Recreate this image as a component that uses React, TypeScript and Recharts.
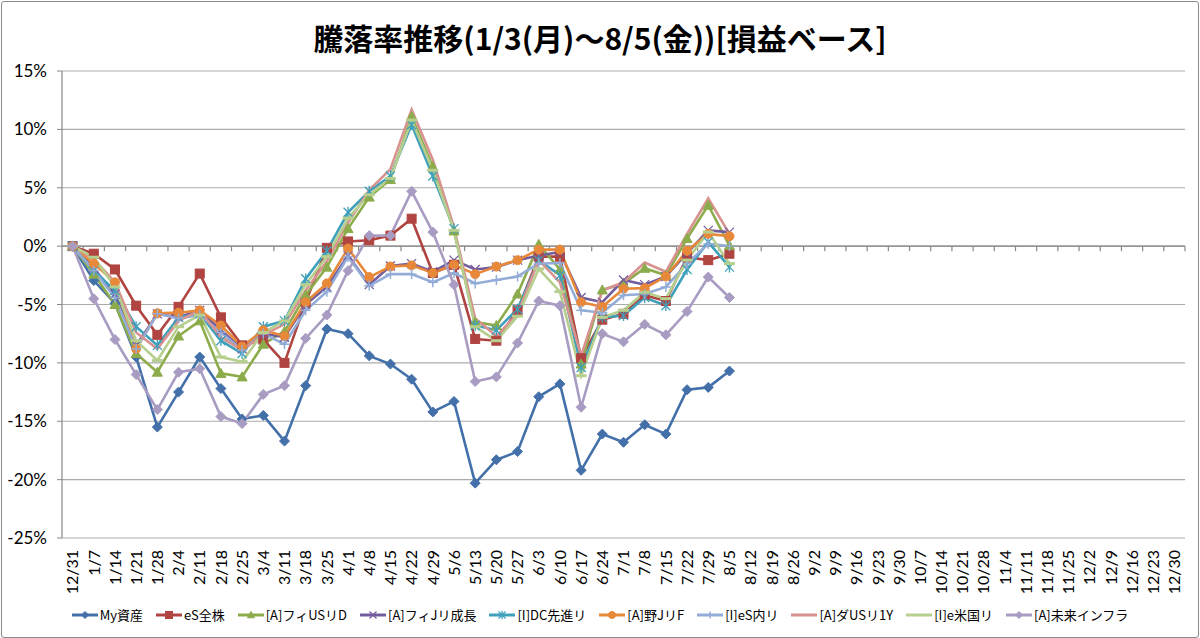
import React from "react";
import {
  LineChart,
  Line,
  XAxis,
  YAxis,
  CartesianGrid,
  ReferenceLine,
} from "recharts";

const title = "騰落率推移(1/3(月)～8/5(金))[損益ベース]";

const dates = [
  "12/31", "1/7", "1/14", "1/21", "1/28", "2/4", "2/11", "2/18", "2/25", "3/4",
  "3/11", "3/18", "3/25", "4/1", "4/8", "4/15", "4/22", "4/29", "5/6", "5/13",
  "5/20", "5/27", "6/3", "6/10", "6/17", "6/24", "7/1", "7/8", "7/15", "7/22",
  "7/29", "8/5", "8/12", "8/19", "8/26", "9/2", "9/9", "9/16", "9/23", "9/30",
  "10/7", "10/14", "10/21", "10/28", "11/4", "11/11", "11/18", "11/25", "12/2", "12/9",
  "12/16", "12/23", "12/30",
];

const yTicks = [-25, -20, -15, -10, -5, 0, 5, 10, 15];

// values in % (12/31 .. 8/5)
const myAsset = [0, -2.95, -4.9, -9.5, -15.5, -12.5, -9.5, -12.2, -14.8, -14.5, -16.7, -11.95, -7.1, -7.5, -9.4, -10.1, -11.4, -14.2, -13.3, -20.3, -18.3, -17.6, -12.9, -11.8, -19.2, -16.1, -16.8, -15.3, -16.1, -12.3, -12.1, -10.7];
const esZenkabu = [0, -0.65, -2.0, -5.1, -7.6, -5.2, -2.35, -6.1, -8.5, -8.0, -10.0, -4.8, -0.15, 0.4, 0.5, 0.9, 2.35, -2.3, -1.6, -7.95, -8.1, -5.5, -0.9, -0.9, -9.6, -6.3, -5.8, -4.2, -4.7, -0.95, -1.2, -0.65];
const fiUsReitD = [0, -2.4, -5.0, -9.2, -10.8, -7.7, -6.4, -10.9, -11.2, -8.4, -7.3, -4.2, -1.8, 1.5, 4.2, 5.7, 11.1, 6.8, 1.3, -6.5, -6.8, -4.1, 0.15, -2.0, -10.1, -3.75, -3.2, -1.9, -2.5, 0.65, 3.5, 0.05];
const fiJReitGrowth = [0, -1.9, -4.1, -8.5, -5.8, -6.1, -5.5, -7.2, -8.8, -7.5, -7.8, -5.0, -3.5, -0.8, -3.3, -1.7, -1.5, -2.2, -1.2, -2.0, -1.8, -1.2, -0.8, -0.5, -4.4, -4.8, -2.9, -3.3, -2.6, -0.6, 1.35, 1.2];
const dcSenshinReit = [0, -2.1, -3.8, -6.9, -8.5, -6.1, -5.8, -8.1, -9.2, -6.9, -6.4, -2.8, -0.4, 2.9, 4.7, 6.0, 10.4, 6.0, 1.5, -6.8, -7.2, -5.4, -1.2, -2.5, -10.4, -6.1, -5.95, -4.4, -5.1, -2.0, 0.35, -1.8];
const noJReitF = [0, -1.5, -3.1, -8.8, -5.75, -5.7, -5.5, -6.8, -8.6, -7.2, -7.7, -4.8, -3.2, -0.2, -2.65, -1.75, -1.65, -2.3, -1.6, -2.4, -1.75, -1.2, -0.3, -0.3, -4.8, -5.2, -3.65, -3.6, -2.6, -0.4, 1.05, 0.85];
const esNaiReit = [0, -2.1, -4.4, -8.8, -5.8, -6.2, -5.9, -7.4, -8.9, -7.5, -8.4, -5.5, -3.9, -0.9, -3.4, -2.4, -2.4, -3.1, -2.3, -3.2, -2.9, -2.6, -1.5, -1.45, -5.5, -5.7, -4.2, -4.1, -3.5, -1.5, 0.2, 0.0];
const daUsReit1Y = [0, -1.1, -3.1, -7.4, -8.8, -6.4, -5.5, -7.8, -8.9, -7.6, -6.7, -3.8, -1.3, 2.0, 4.8, 6.6, 11.7, 7.4, 1.6, -6.2, -7.7, -5.8, -1.2, -3.1, -9.4, -3.8, -3.1, -1.4, -2.2, 1.05, 4.1, 1.05];
const eBeikokuReit = [0, -0.95, -3.5, -8.1, -9.8, -6.9, -5.9, -9.5, -9.9, -7.4, -6.4, -3.3, -0.9, 2.4, 4.4, 5.8, 10.8, 6.5, 1.35, -6.9, -8.1, -6.0, -1.95, -3.9, -11.1, -6.1, -5.5, -3.95, -4.5, -1.2, 1.2, -1.5];
const miraiInfra = [0, -4.5, -8.0, -11.0, -14.0, -10.8, -10.5, -14.6, -15.2, -12.7, -11.95, -7.9, -5.9, -2.1, 0.9, 0.9, 4.7, 1.2, -3.3, -11.6, -11.2, -8.3, -4.7, -5.1, -13.8, -7.5, -8.2, -6.7, -7.6, -5.6, -2.65, -4.4];

type Shape = "diamond" | "square" | "triangle" | "x" | "star" | "circle" | "plus" | "none" | "dash";

const series: { key: string; name: string; values: number[]; color: string; marker: Shape }[] = [
  { key: "s1", name: "My資産", values: myAsset, color: "#4470AA", marker: "diamond" },
  { key: "s2", name: "eS全株", values: esZenkabu, color: "#B04441", marker: "square" },
  { key: "s3", name: "[A]フィUSリD", values: fiUsReitD, color: "#8CAC4C", marker: "triangle" },
  { key: "s4", name: "[A]フィJリ成長", values: fiJReitGrowth, color: "#735C9E", marker: "x" },
  { key: "s5", name: "[I]DC先進リ", values: dcSenshinReit, color: "#3FA0BC", marker: "star" },
  { key: "s6", name: "[A]野JリF", values: noJReitF, color: "#E8893A", marker: "circle" },
  { key: "s7", name: "[I]eS内リ", values: esNaiReit, color: "#93ACD8", marker: "plus" },
  { key: "s8", name: "[A]ダUSリ1Y", values: daUsReit1Y, color: "#D8928F", marker: "none" },
  { key: "s9", name: "[I]e米国リ", values: eBeikokuReit, color: "#B6CF8E", marker: "dash" },
  { key: "s10", name: "[A]未来インフラ", values: miraiInfra, color: "#A99CC2", marker: "diamond" },
];

const data = dates.map((date, i) => {
  const row: Record<string, string | number | null> = { date };
  series.forEach((s) => {
    row[s.key] = i < s.values.length ? s.values[i] : null;
  });
  return row;
});

function marker(shape: Shape, color: string, cx: number, cy: number, r: number, key?: string) {
  switch (shape) {
    case "diamond":
      return <polygon key={key} points={`${cx},${cy - r} ${cx + r},${cy} ${cx},${cy + r} ${cx - r},${cy}`} fill={color} stroke={color} />;
    case "square":
      return <rect key={key} x={cx - r} y={cy - r} width={2 * r} height={2 * r} fill={color} stroke={color} />;
    case "triangle":
      return <polygon key={key} points={`${cx},${cy - r} ${cx + r},${cy + r * 0.8} ${cx - r},${cy + r * 0.8}`} fill={color} stroke={color} />;
    case "circle":
      return <circle key={key} cx={cx} cy={cy} r={r} fill={color} stroke={color} />;
    case "x":
      return (
        <g key={key} stroke={color} strokeWidth={1.3}>
          <line x1={cx - r} y1={cy - r} x2={cx + r} y2={cy + r} />
          <line x1={cx - r} y1={cy + r} x2={cx + r} y2={cy - r} />
        </g>
      );
    case "star":
      return (
        <g key={key} stroke={color} strokeWidth={1.3}>
          <line x1={cx - r} y1={cy - r} x2={cx + r} y2={cy + r} />
          <line x1={cx - r} y1={cy + r} x2={cx + r} y2={cy - r} />
          <line x1={cx} y1={cy - r * 1.2} x2={cx} y2={cy + r * 1.2} />
        </g>
      );
    case "plus":
      return (
        <g key={key} stroke={color} strokeWidth={1.5}>
          <line x1={cx - r} y1={cy} x2={cx + r} y2={cy} />
          <line x1={cx} y1={cy - r} x2={cx} y2={cy + r} />
        </g>
      );
    case "dash":
      return <line key={key} x1={cx - r} y1={cy} x2={cx + r} y2={cy} stroke={color} strokeWidth={3} />;
    default:
      return <g key={key} />;
  }
}

const markerSize: Record<Shape, number> = {
  diamond: 5, square: 4.5, triangle: 5, x: 4.5, star: 4.5, circle: 4.5, plus: 5, none: 0, dash: 5.5,
};

function XTick({ x, y, payload }: any) {
  return (
    <text
      x={x}
      y={y + 4}
      transform={`rotate(-90 ${x} ${y + 4})`}
      textAnchor="end"
      dy="0.36em"
      fontSize={16}
      fontFamily="Lato, 'Noto Sans', sans-serif"
      fill="#000"
    >
      {payload.value}
    </text>
  );
}

function ZeroAxis(props: any) {
  const { x1, y1, x2 } = props;
  const n = dates.length;
  const step = (x2 - x1) / n;
  return (
    <g>
      <line x1={x1} y1={y1} x2={x2} y2={y1} stroke="#888" strokeWidth={1.2} />
      {dates.map((d, k) => (
        <line key={d} x1={x1 + step * (k + 1)} y1={y1} x2={x1 + step * (k + 1)} y2={y1 + 5} stroke="#888" strokeWidth={1.2} />
      ))}
    </g>
  );
}

export default function App() {
  return (
    <div style={{ position: "absolute", left: 0, top: 0, width: 1200, height: 638, background: "#fff" }}>
      <div
        style={{
          position: "absolute",
          top: 13,
          left: 0,
          width: 1200,
          textAlign: "center",
          fontFamily: "'Noto Sans CJK JP', sans-serif",
          fontWeight: 700,
          fontSize: 30,
          lineHeight: "48px",
          color: "#000",
        }}
      >
        {title}
      </div>
      <div style={{ position: "absolute", left: 0, top: 0 }}>
        <LineChart width={1200} height={638} data={data} margin={{ top: 71, right: 15, bottom: 0, left: 0 }}>
          <CartesianGrid vertical={false} stroke="#ababab" strokeWidth={1.2} />
          <XAxis
            dataKey="date"
            interval={0}
            height={100}
            padding={{ left: 10.6, right: 10.6 }}
            axisLine={false}
            tickLine={false}
            tick={<XTick />}
          />
          <YAxis
            width={62}
            domain={[-25, 15]}
            ticks={yTicks}
            interval={0}
            tickFormatter={(v) => `${v}%`}
            tick={{ fontSize: 17, fill: "#000", fontFamily: "Lato, 'Noto Sans', sans-serif" }}
            tickSize={5}
            tickMargin={10}
            tickLine={{ stroke: "#888" }}
            axisLine={{ stroke: "#888", strokeWidth: 1.2 }}
          />
          <ReferenceLine y={0} shape={<ZeroAxis />} />
          {series.map((s) => (
            <Line
              key={s.key}
              dataKey={s.key}
              name={s.name}
              type="linear"
              stroke={s.color}
              strokeWidth={2.6}
              isAnimationActive={false}
              activeDot={false}
              dot={(p: any) =>
                p.cy == null || p.value == null
                  ? <g key={`${s.key}-${p.index}`} />
                  : marker(s.marker, s.color, p.cx, p.cy, markerSize[s.marker], `${s.key}-${p.index}`)
              }
            />
          ))}
        </LineChart>
      </div>
      <div
        style={{
          position: "absolute",
          top: 604,
          left: 0,
          width: 1200,
          display: "flex",
          justifyContent: "center",
          gap: 13,
          fontFamily: "'Noto Sans CJK JP', sans-serif",
          fontSize: 13,
          lineHeight: "22px",
          color: "#000",
        }}
      >
        {series.map((s) => (
          <div key={s.key} style={{ display: "flex", alignItems: "center" }}>
            <svg width={26} height={12} style={{ marginRight: 2 }}>
              <line x1={0} y1={6} x2={26} y2={6} stroke={s.color} strokeWidth={3} />
              {marker(s.marker, s.color, 13, 6, s.marker === "dash" ? 0 : 3.5)}
            </svg>
            <span>{s.name}</span>
          </div>
        ))}
      </div>
      <div
        style={{
          position: "absolute",
          left: 1,
          top: 1,
          width: 1196,
          height: 635,
          border: "1px solid #8a8a8a",
          borderRadius: 3,
          pointerEvents: "none",
        }}
      />
    </div>
  );
}
